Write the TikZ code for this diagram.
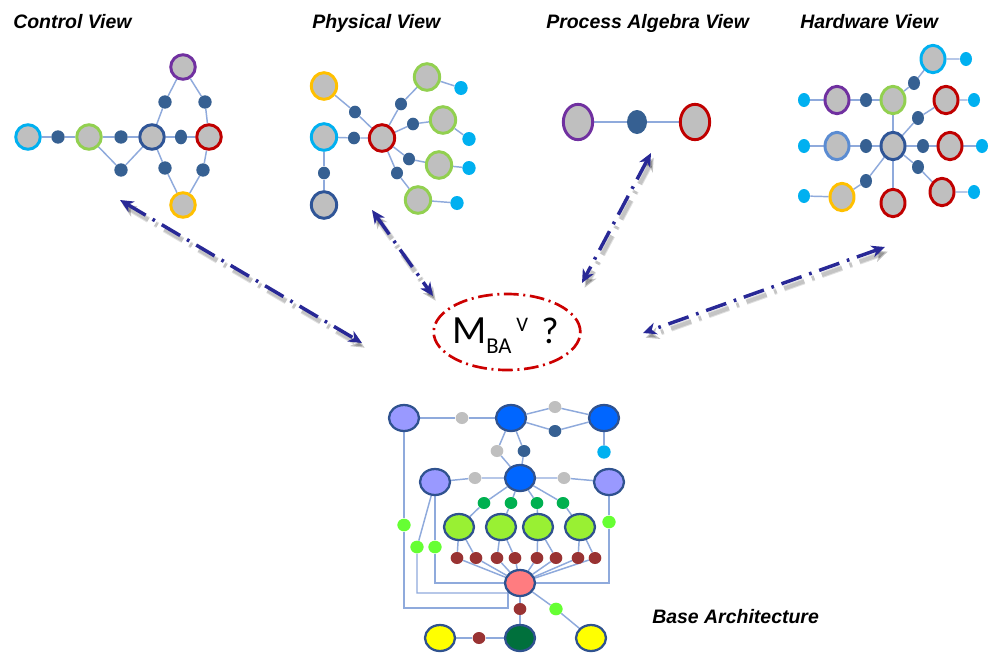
\documentclass[tikz,border=0pt]{standalone}
\usepackage{fontspec}
\newfontfamily\arialfont{Liberation Sans}
\newfontfamily\calfont{Carlito}
\usetikzlibrary{shapes.geometric,arrows.meta,backgrounds}

\definecolor{ngray}{RGB}{191,191,191}
\definecolor{ndot}{RGB}{54,96,146}
\definecolor{ncyan}{RGB}{0,176,240}
\definecolor{bgreen}{RGB}{146,208,80}
\definecolor{bred}{RGB}{192,0,0}
\definecolor{bpurple}{RGB}{112,48,160}
\definecolor{byellow}{RGB}{255,192,0}
\definecolor{bnavy}{RGB}{47,85,151}
\definecolor{blight}{RGB}{91,140,210}
\definecolor{edgec}{RGB}{143,170,220}
\definecolor{lavc}{RGB}{153,153,255}
\definecolor{bluec}{RGB}{0,102,255}
\definecolor{lgreenc}{RGB}{153,240,51}
\definecolor{limec}{RGB}{102,255,51}
\definecolor{dgreenc}{RGB}{0,176,80}
\definecolor{brownc}{RGB}{153,51,51}
\definecolor{pinkc}{RGB}{255,124,128}
\definecolor{yelc}{RGB}{255,255,0}
\definecolor{dkgreenc}{RGB}{0,112,60}
\definecolor{outl}{RGB}{47,82,143}
\definecolor{arrc}{RGB}{40,40,150}
\definecolor{ellred}{RGB}{204,0,0}

\begin{document}
\begin{tikzpicture}[x=0.75pt,y=-0.75pt,
  vbig/.style={ellipse,draw=#1,fill=ngray,line width=2.2pt,inner sep=0pt},
  vdot/.style={ellipse,fill=ndot,inner sep=0pt},
  vcy/.style={ellipse,fill=ncyan,inner sep=0pt},
  link/.style={draw=edgec,line width=1.1pt},
  bbig/.style={ellipse,draw=outl,fill=#1,line width=1.7pt,inner sep=0pt,minimum width=22.5pt,minimum height=19.5pt},
  bdot/.style={ellipse,fill=#1,inner sep=0pt,minimum width=9.5pt,minimum height=9pt},
  viewtitle/.style={font=\arialfont\bfseries\itshape\fontsize{14.6}{16}\selectfont,anchor=base west,inner sep=0pt},
  varrow/.style={draw=arrc,line width=2.6pt,dash pattern=on 16pt off 6pt on 2pt off 6pt,{Stealth[length=10pt,width=9pt,inset=3pt]}-{Stealth[length=10pt,width=9pt,inset=3pt]}},
  vshadow/.style={draw=black,line width=#1,opacity=0.12,dash pattern=on 16pt off 6pt on 2pt off 6pt,{Stealth[length=10pt,width=9pt,inset=3pt]}-{Stealth[length=10pt,width=9pt,inset=3pt]}},
  mtext/.style={anchor=base west,inner sep=0pt,font=\calfont}
]
\useasboundingbox (0,0) rectangle (990,654);
\begin{pgfonlayer}{background}
  \fill[white] (0,0) rectangle (990,654);
\end{pgfonlayer}

% ---------- titles ----------
\node[viewtitle] (tcontrol) at (13,28) {Control View};
\node[viewtitle] (tphys) at (312,28) {Physical View};
\node[viewtitle] (tproc) at (546,28) {Process Algebra View};
\node[viewtitle] (thw) at (800,28) {Hardware View};
\node[viewtitle] (tbase) at (652,623) {Base Architecture};

% ---------- control view ----------
\begin{scope}[vbig/.append style={minimum width=18.4pt,minimum height=18.4pt},
              vdot/.append style={minimum width=10pt,minimum height=10pt}]
  \node[vbig=ncyan] (c1) at (28,137) {};
  \node[vdot] (c2) at (58,137) {};
  \node[vbig=bgreen] (c3) at (89,137) {};
  \node[vdot] (c4) at (121,137) {};
  \node[vbig=bnavy] (c5) at (152,137) {};
  \node[vdot,minimum width=9pt,minimum height=11pt] (c6) at (181,137) {};
  \node[vbig=bred] (c7) at (209,137) {};
  \node[vbig=bpurple] (c8) at (183,67) {};
  \node[vdot] (c9) at (165,102) {};
  \node[vdot] (c10) at (205,102) {};
  \node[vdot] (c11) at (121,170) {};
  \node[vdot] (c12) at (165,168) {};
  \node[vdot] (c13) at (203,170) {};
  \node[vbig=byellow] (c14) at (183,205) {};
\end{scope}
\begin{pgfonlayer}{background}
  \draw[link] (c1) -- (c2) -- (c3) -- (c4) -- (c5) -- (c6) -- (c7);
  \draw[link] (c3) -- (c11) -- (c5);
  \draw[link] (c5) -- (c9) -- (c8) -- (c10) -- (c7);
  \draw[link] (c5) -- (c12) -- (c14) -- (c13) -- (c7);
\end{pgfonlayer}

% ---------- physical view ----------
\begin{scope}[vbig/.append style={minimum width=19pt,minimum height=20pt},
              vdot/.append style={minimum width=9pt,minimum height=9.5pt},
              vcy/.append style={minimum width=10pt,minimum height=10.5pt}]
  \node[vbig=byellow] (p1) at (324,86) {};
  \node[vbig=ncyan] (p2) at (324,137) {};
  \node[vbig=bnavy] (p3) at (324,205) {};
  \node[vdot] (p4) at (324,173) {};
  \node[vbig=bred] (p5) at (382,138) {};
  \node[vdot] (p6) at (355,112) {};
  \node[vdot] (p7) at (354,138) {};
  \node[vbig=bgreen] (g1) at (427,77) {};
  \node[vbig=bgreen] (g2) at (443,120) {};
  \node[vbig=bgreen] (g3) at (439,165) {};
  \node[vbig=bgreen] (g4) at (418,200) {};
  \node[vdot] (d1) at (401,104) {};
  \node[vdot] (d2) at (413,124) {};
  \node[vdot] (d3) at (409,159) {};
  \node[vdot] (d4) at (397,173) {};
  \node[vcy] (s1) at (461,88) {};
  \node[vcy] (s2) at (469,139) {};
  \node[vcy] (s3) at (469,168) {};
  \node[vcy] (s4) at (457,203) {};
\end{scope}
\begin{pgfonlayer}{background}
  \draw[link] (p1) -- (p6) -- (p5);
  \draw[link] (p2) -- (p7) -- (p5);
  \draw[link] (p2) -- (p4) -- (p3);
  \draw[link] (p5) -- (d1) -- (g1) -- (s1);
  \draw[link] (p5) -- (d2) -- (g2) -- (s2);
  \draw[link] (p5) -- (d3) -- (g3) -- (s3);
  \draw[link] (p5) -- (d4) -- (g4) -- (s4);
\end{pgfonlayer}

% ---------- process algebra view ----------
\node[vbig=bpurple,minimum width=22pt,minimum height=26.5pt] (a1) at (578,122) {};
\node[vdot,minimum width=15pt,minimum height=18pt] (a2) at (637,122) {};
\node[vbig=bred,minimum width=22pt,minimum height=26.5pt] (a3) at (695,122) {};
\begin{pgfonlayer}{background}
  \draw[link] (a1) -- (a2) -- (a3);
\end{pgfonlayer}

% ---------- hardware view ----------
\begin{scope}[vbig/.append style={minimum width=18pt,minimum height=20.5pt},
              vdot/.append style={minimum width=9pt,minimum height=10.5pt},
              vcy/.append style={minimum width=9pt,minimum height=10.5pt}]
  \node[vbig=bnavy] (h0) at (893,146) {};
  \node[vbig=bgreen] (h1) at (893,100) {};
  \node[vdot] (h2) at (866,100) {};
  \node[vbig=bpurple] (h3) at (837,100) {};
  \node[vcy] (h4) at (804,100) {};
  \node[vdot] (h5) at (914,83) {};
  \node[vbig=ncyan] (h6) at (933,59) {};
  \node[vcy] (h7) at (966,59) {};
  \node[vdot] (h8) at (918,118) {};
  \node[vbig=bred] (h9) at (946,100) {};
  \node[vcy] (h10) at (974,100) {};
  \node[vdot] (h11) at (866,146) {};
  \node[vbig=blight] (h12) at (837,146) {};
  \node[vcy] (h13) at (804,146) {};
  \node[vdot] (h14) at (923,146) {};
  \node[vbig=bred] (h15) at (950,146) {};
  \node[vcy] (h16) at (982,146) {};
  \node[vdot] (h17) at (918,167) {};
  \node[vbig=bred] (h18) at (942,192) {};
  \node[vcy] (h19) at (974,192) {};
  \node[vbig=bred] (h20) at (893,203) {};
  \node[vdot] (h21) at (866,181) {};
  \node[vbig=byellow] (h22) at (842,197) {};
  \node[vcy] (h23) at (804,196) {};
\end{scope}
\begin{pgfonlayer}{background}
  \draw[link] (h1) -- (h0) -- (h20);
  \draw[link] (h1) -- (h2) -- (h3) -- (h4);
  \draw[link] (h1) -- (h5) -- (h6) -- (h7);
  \draw[link] (h0) -- (h8) -- (h9) -- (h10);
  \draw[link] (h0) -- (h11) -- (h12) -- (h13);
  \draw[link] (h0) -- (h14) -- (h15) -- (h16);
  \draw[link] (h0) -- (h17) -- (h18) -- (h19);
  \draw[link] (h0) -- (h21) -- (h22) -- (h23);
\end{pgfonlayer}

% ---------- base architecture ----------
\node[bbig=lavc] (A) at (404,418) {};
\node[bdot=ngray] (gA) at (462,418) {};
\node[bbig=bluec] (B) at (511,418) {};
\node[bdot=ngray] (gB) at (555,407) {};
\node[bdot=ndot] (dB) at (555,431) {};
\node[bbig=bluec] (C) at (604,418) {};
\node[bdot=ncyan,minimum width=10pt,minimum height=10pt] (cC) at (604,452) {};
\node[bdot=ngray] (gE) at (497,451) {};
\node[bdot=ndot] (dE) at (524,451) {};
\node[bbig=lavc] (D) at (435,482) {};
\node[bdot=ngray] (gD) at (475,478) {};
\node[bbig=bluec] (E) at (520,478) {};
\node[bdot=ngray] (gF) at (564,478) {};
\node[bbig=lavc] (F) at (609,482) {};
\node[bdot=dgreenc] (k1) at (484,503) {};
\node[bdot=dgreenc] (k2) at (511,503) {};
\node[bdot=dgreenc] (k3) at (537,503) {};
\node[bdot=dgreenc] (k4) at (563,503) {};
\node[bbig=lgreenc] (e1) at (459,527) {};
\node[bbig=lgreenc] (e2) at (501,527) {};
\node[bbig=lgreenc] (e3) at (538,527) {};
\node[bbig=lgreenc] (e4) at (580,527) {};
\node[bdot=limec,minimum width=10pt,minimum height=9.5pt] (la) at (404,525) {};
\node[bdot=limec,minimum width=10pt,minimum height=9.5pt] (lf) at (609,522) {};
\node[bdot=limec,minimum width=10pt,minimum height=9.5pt] (ld1) at (417,547) {};
\node[bdot=limec,minimum width=10pt,minimum height=9.5pt] (ld2) at (435,547) {};
\foreach \i/\x in {1/457,2/476,3/497,4/515,5/537,6/556,7/578,8/595}
  \node[bdot=brownc] (r\i) at (\x,558) {};
\node[bbig=pinkc] (G) at (520,583) {};
\node[bdot=brownc] (rG) at (520,609) {};
\node[bdot=limec,minimum width=10pt,minimum height=9.5pt] (lG) at (556,609) {};
\node[bbig=yelc] (Y1) at (440,638) {};
\node[bdot=brownc] (rY) at (479,638) {};
\node[bbig=dkgreenc] (DG) at (520,638) {};
\node[bbig=yelc] (Y2) at (591,638) {};
\coordinate (ka) at (404,608);
\coordinate (kb) at (508,608);
\coordinate (kd) at (417,593);
\coordinate (ke) at (435,583);
\coordinate (kf) at (609,583);
\begin{pgfonlayer}{background}
  \draw[link] (A) -- (gA) -- (B);
  \draw[link] (B) -- (gB) -- (C);
  \draw[link] (B) -- (dB) -- (C);
  \draw[link] (B) -- (gE) -- (E);
  \draw[link] (B) -- (dE) -- (E);
  \draw[link] (C) -- (cC);
  \draw[link] (D) -- (gD) -- (E) -- (gF) -- (F);
  \foreach \i in {1,...,4} \draw[link] (E) -- (k\i) -- (e\i);
  \draw[link] (r1) -- (e1) -- (r2);
  \draw[link] (r3) -- (e2) -- (r4);
  \draw[link] (r5) -- (e3) -- (r6);
  \draw[link] (r7) -- (e4) -- (r8);
  \foreach \i in {1,...,8} \draw[link] (r\i) -- (G);
  \draw[link] (A) -- (la) -- (ka) -- (kb) -- (kb |- G);
  \draw[link] (D) -- (ld1) -- (kd) -- (kd -| G);
  \draw[link] (D) -- (ld2) -- (ke) -- (G);
  \draw[link] (F) -- (lf) -- (kf) -- (G);
  \draw[link] (G) -- (rG) -- (DG) -- (rY) -- (Y1);
  \draw[link] (G) -- (lG) -- (Y2);
\end{pgfonlayer}

% ---------- central question ----------
\node[ellipse,draw=ellred,line width=2pt,dash pattern=on 11pt off 3.5pt on 1.5pt off 3.5pt,
      minimum width=110pt,minimum height=57pt,inner sep=0pt] (mba) at (507,332) {};
\node[mtext] (mM) at (452,343) {\fontsize{30}{30}\selectfont M};
\node[mtext] (mBA) at (486,353) {\fontsize{17}{17}\selectfont BA};
\node[mtext] (mV) at (516,331) {\fontsize{15.5}{16}\selectfont V};
\node[mtext] (mQ) at (541,343) {\fontsize{28}{28}\selectfont ?};

% ---------- view mapping arrows ----------
\coordinate (u1) at (120,200); \coordinate (v1) at (362,343);
\coordinate (u2) at (372,210); \coordinate (v2) at (433,296);
\coordinate (u3) at (651,153); \coordinate (v3) at (582,283);
\coordinate (u4) at (885,247); \coordinate (v4) at (643,333);
\begin{scope}[transform canvas={shift={(2pt,-3.5pt)}}]
  \foreach \w in {4.5pt,3pt} {
    \draw[vshadow=\w] (u1) -- (v1);
    \draw[vshadow=\w] (u2) -- (v2);
    \draw[vshadow=\w] (u3) -- (v3);
    \draw[vshadow=\w] (u4) -- (v4);
  }
\end{scope}
\draw[varrow] (u1) -- (v1);
\draw[varrow] (u2) -- (v2);
\draw[varrow] (u3) -- (v3);
\draw[varrow] (u4) -- (v4);
\end{tikzpicture}
\end{document}
